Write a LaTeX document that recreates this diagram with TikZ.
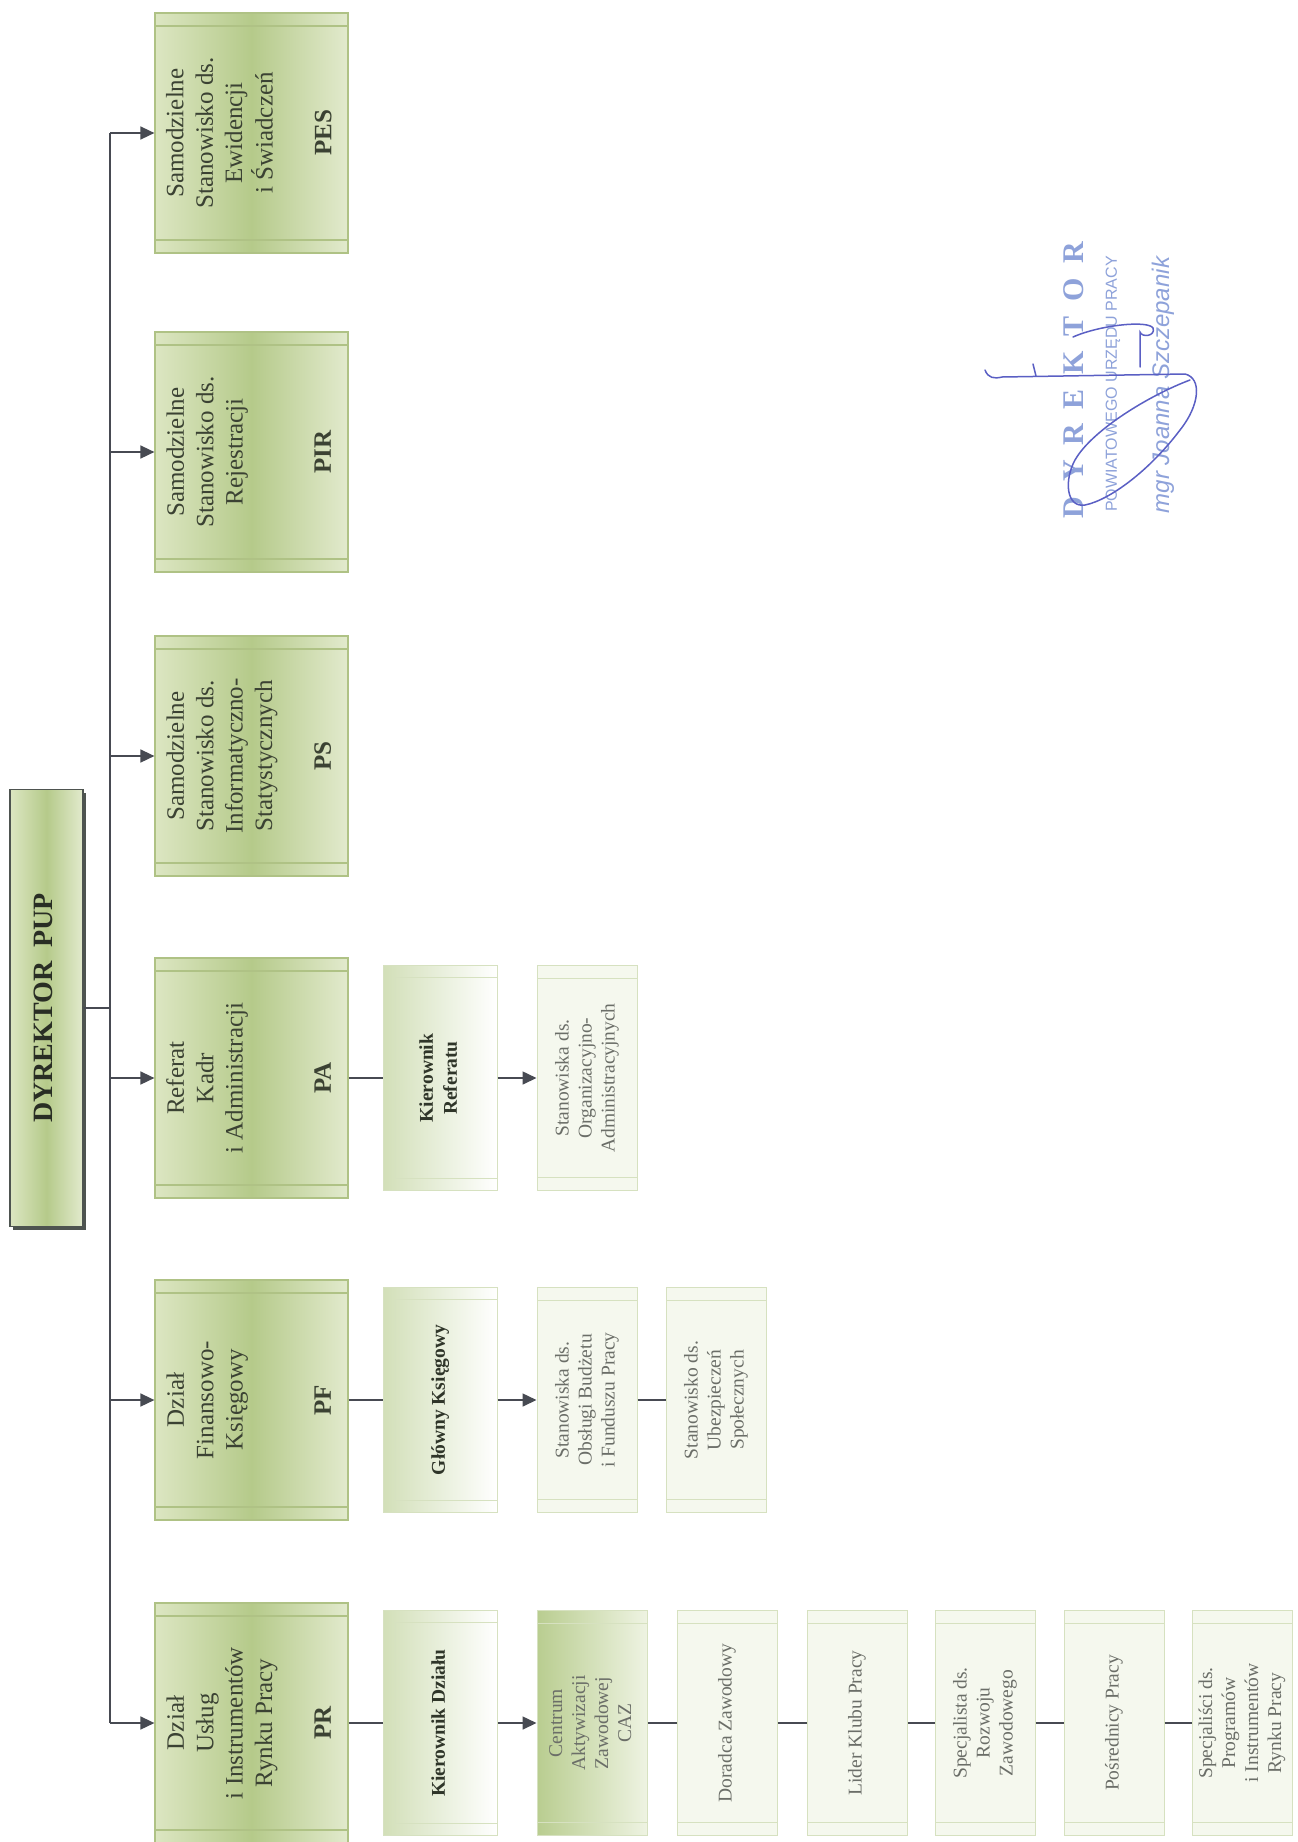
\documentclass[tikz,border=0pt]{standalone}
\usepackage{fontspec}
\setmainfont{Liberation Serif}
\newfontfamily\stampsans{Liberation Sans}
\usepackage{graphicx}
\usetikzlibrary{arrows.meta,shadows}
\definecolor{boxline}{HTML}{AFC285}
\definecolor{leafedge}{HTML}{D6E1C0}
\definecolor{olivelight}{HTML}{DCE6C2}
\definecolor{olivemid}{HTML}{B5CA8A}
\definecolor{olivepale}{HTML}{E2EACD}
\definecolor{chiefgreen}{HTML}{D2DFB8}
\definecolor{hubgreen}{HTML}{B9CD90}
\definecolor{hubpale}{HTML}{EEF3E2}
\definecolor{seatfill}{HTML}{F5F8EE}
\definecolor{bossline}{HTML}{4E5450}
\definecolor{linkgray}{HTML}{474A52}
\definecolor{textdark}{HTML}{3B4233}
\definecolor{textgray}{HTML}{6B6E68}
\definecolor{stampblue}{HTML}{8EA2DA}
\definecolor{inkblue}{HTML}{5A5FC4}

\newcommand{\vlabel}[1]{\rotatebox{90}{\begin{tabular}{@{}c@{}}#1\end{tabular}}}

\tikzset{
  link/.style={draw=linkgray, line width=1.6pt},
  flow/.style={link, -{Triangle[length=14pt,width=13pt]}},
  bands/.style={path picture={
    \draw[#1] ([yshift=-13pt]path picture bounding box.north west) -- ([yshift=-13pt]path picture bounding box.north east);
    \draw[#1] ([yshift=13pt]path picture bounding box.south west) -- ([yshift=13pt]path picture bounding box.south east);}},
  boss/.style={draw=bossline, line width=1.5pt, left color=olivelight, right color=olivepale, middle color=olivemid,
    minimum width=73pt, minimum height=437pt, inner sep=0pt,
    drop shadow={shadow xshift=3pt, shadow yshift=-3pt, fill=bossline, opacity=1},
    text=textdark!70!black, font=\fontsize{28}{30}\selectfont\bfseries},
  dept/.style={draw=boxline, line width=1.2pt, left color=olivelight, right color=olivepale, middle color=olivemid,
    bands={boxline, line width=1.2pt}, minimum width=193pt, minimum height=240pt, inner sep=0pt,
    text=textdark, font=\fontsize{25}{29.4}\selectfont},
  chief/.style={draw=leafedge, line width=1pt, left color=chiefgreen, right color=white,
    minimum width=114pt, minimum height=225pt, inner sep=0pt,
    text=textdark!80!black, font=\fontsize{19.5}{24}\selectfont\bfseries,
    path picture={\draw[leafedge, line width=1pt]
      ([yshift=-12pt]path picture bounding box.north east) -|
      ([xshift=12pt,yshift=12pt]path picture bounding box.south west) --
      ([yshift=12pt]path picture bounding box.south east);}},
  hub/.style={draw=leafedge, line width=1pt, left color=hubgreen, right color=hubpale,
    bands={leafedge, line width=1pt}, minimum width=110pt, minimum height=225pt, inner sep=0pt,
    text=textgray, font=\fontsize{19.5}{23}\selectfont},
  seat/.style={draw=leafedge, line width=1pt, fill=seatfill,
    bands={leafedge, line width=1pt}, minimum width=100pt, minimum height=225pt, inner sep=0pt,
    text=textgray, font=\fontsize{19.5}{23}\selectfont},
  stamp/.style={rotate=90, inner sep=0pt, text=stampblue},
  ink/.style={draw=inkblue, line width=1.5pt, line cap=round}
}

\begin{document}
\begin{tikzpicture}[x=1pt,y=-1pt]
\fill[white] (0,0) rectangle (1298,1842);
\useasboundingbox (0,0) rectangle (1298,1842);

% Director and the vertical bus
\node[boss] (dyr) at (46.5,1008) {\vlabel{DYREKTOR\ \ PUP}};
\coordinate (bus) at (110,0);

% Departments and independent posts
\node[dept] (pes) at (251.5,133) {\vlabel{Samodzielne\\Stanowisko ds.\\Ewidencji\\i Świadczeń\\ \\\textbf{PES}}};
\node[dept] (pir) at (251.5,452) {\vlabel{Samodzielne\\Stanowisko ds.\\Rejestracji\\ \\ \\\textbf{PIR}}};
\node[dept] (ps) at (251.5,756) {\vlabel{Samodzielne\\Stanowisko ds.\\Informatyczno-\\Statystycznych\\ \\\textbf{PS}}};
\node[dept] (pa) at (251.5,1078) {\vlabel{Referat\\Kadr\\i Administracji\\ \\ \\\textbf{PA}}};
\node[dept] (pf) at (251.5,1400) {\vlabel{Dział\\Finansowo-\\Księgowy\\ \\ \\\textbf{PF}}};
\node[dept] (pr) at (251.5,1723) {\vlabel{Dział\\Usług\\i Instrumentów\\Rynku Pracy\\ \\\textbf{PR}}};

\draw[link] (dyr) -- (dyr -| bus);
\draw[link] (bus |- pes) -- (bus |- pr);
\foreach \d in {pes,pir,ps,pa,pf,pr}
  \draw[flow] (bus |- \d) -- (\d);

% Referat Kadr i Administracji
\node[chief] (kr) at (440,1078) {\vlabel{Kierownik\\Referatu}};
\node[seat] (soa) at (587,1078) {\vlabel{Stanowiska ds.\\Organizacyjno-\\Administracyjnych}};
\draw[link] (pa) -- (kr);
\draw[flow] (kr) -- (soa);

% Dzial Finansowo-Ksiegowy
\node[chief] (gk) at (440,1400) {\vlabel{Główny Księgowy}};
\node[seat] (obf) at (587,1400) {\vlabel{Stanowiska ds.\\Obsługi Budżetu\\i Funduszu Pracy}};
\node[seat] (ubs) at (716,1400) {\vlabel{Stanowisko ds.\\Ubezpieczeń\\Społecznych}};
\draw[link] (pf) -- (gk);
\draw[flow] (gk) -- (obf);
\draw[link] (obf) -- (ubs);

% Dzial Uslug i Instrumentow Rynku Pracy
\node[chief] (kd) at (440,1723) {\vlabel{Kierownik Działu}};
\node[hub] (caz) at (592,1723) {\vlabel{Centrum\\Aktywizacji\\Zawodowej\\CAZ}};
\node[seat] (dor) at (727,1723) {\vlabel{Doradca Zawodowy}};
\node[seat] (lid) at (857,1723) {\vlabel{Lider Klubu Pracy}};
\node[seat] (roz) at (985,1723) {\vlabel{Specjalista ds.\\Rozwoju\\Zawodowego}};
\node[seat] (pos) at (1114,1723) {\vlabel{Pośrednicy Pracy}};
\node[seat] (prog) at (1242,1723) {\vlabel{Specjaliści ds.\\Programów\\i Instrumentów\\Rynku Pracy}};
\draw[link] (pr) -- (kd);
\draw[flow] (kd) -- (caz);
\draw[link] (caz) -- (dor) (dor) -- (lid) (lid) -- (roz) (roz) -- (pos) (pos) -- (prog);

% Stamp and signature
\node[stamp, font=\fontsize{30}{30}\selectfont\bfseries] (st1) at (1074,380)
  {D\kern14.7pt Y\kern14.7pt R\kern14.7pt E\kern14.7pt K\kern14.7pt T\kern14.7pt O\kern14.7pt R};
\node[stamp, font=\stampsans\fontsize{16}{16}\selectfont] (st2) at (1113,384) {POWIATOWEGO URZĘDU PRACY};
\node[stamp, font=\stampsans\itshape\fontsize{24}{24}\selectfont] (st3) at (1163,385) {mgr Joanna Szczepanik};
\draw[ink] (985,370) .. controls (988,378) and (994,379) .. (1002,377) -- (1185,374)
  .. controls (1202,378) and (1200,405) .. (1180,430)
  .. controls (1150,470) and (1110,500) .. (1085,505)
  .. controls (1066,508) and (1064,480) .. (1075,460)
  .. controls (1092,430) and (1150,395) .. (1190,380);
\draw[ink] (1073,337) .. controls (1100,325) and (1148,320) .. (1153,328)
  .. controls (1156,336) and (1142,338) .. (1140,332) -- (1140,367);
\draw[ink] (1033,364) -- (1036,376);
\end{tikzpicture}
\end{document}
